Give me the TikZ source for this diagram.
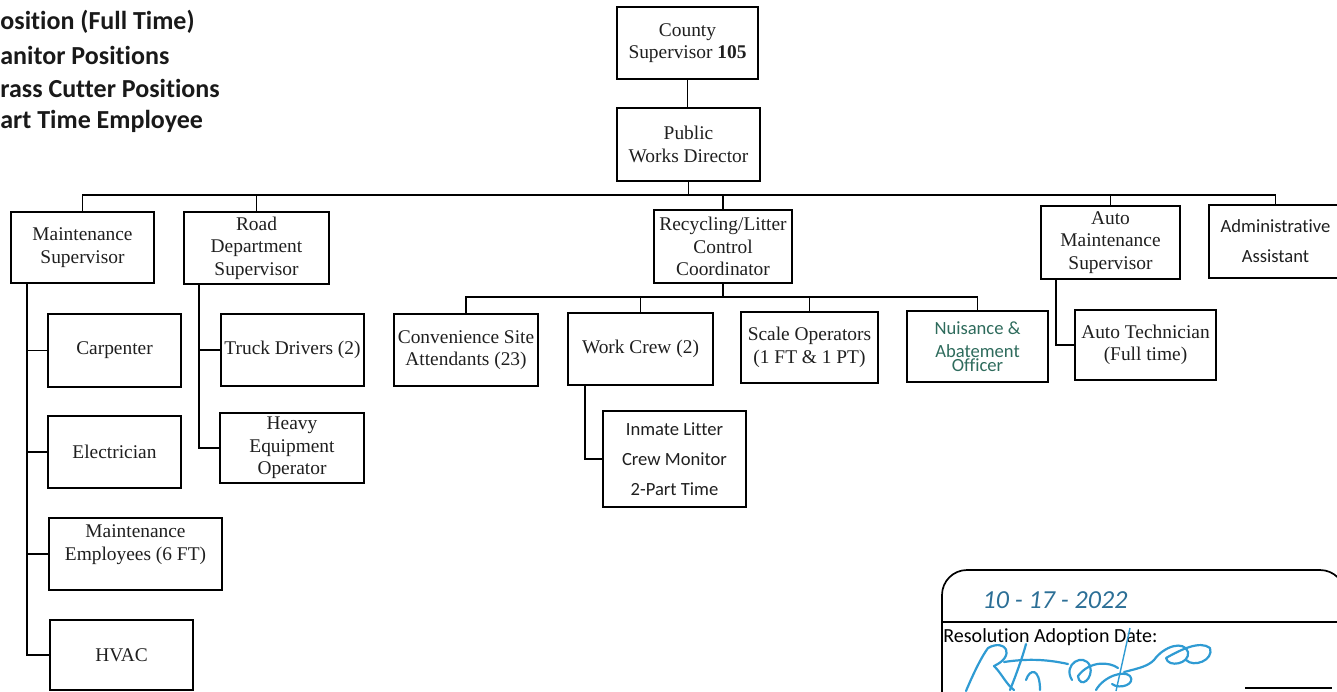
\documentclass[tikz,border=0pt]{standalone}
\usepackage{fontspec}
\setmainfont{Liberation Serif}
\newfontfamily\calfont[Ligatures=NoCommon]{Carlito}
\usetikzlibrary{calc}
\definecolor{sigblue}{HTML}{2F9BD3}
\definecolor{dateblue}{HTML}{2C6F96}
\definecolor{nuisgreen}{HTML}{2E6B5C}
\tikzset{
  box/.style={draw=black, line width=0.95pt, inner sep=0pt, align=center,
    text=black!88, font=\fontsize{9.7}{11.3}\selectfont},
  cbox/.style={box, font=\calfont\fontsize{9.3}{15}\selectfont},
  link/.style={line width=0.95pt},
  legend/.style={anchor=west, inner sep=0pt, text=black!90,
    font=\calfont\bfseries\fontsize{13}{15}\selectfont},
  sig/.style={line width=1.1pt, draw=sigblue, line cap=round, line join=round},
}
\begin{document}
\begin{tikzpicture}[x=0.5pt, y=-0.5pt]
\useasboundingbox (0,0) rectangle (1337,691);
\clip (0,0) rectangle (1337,691);

% legend lines
\node[legend] (lg1) at (0,22)  {osition (Full Time)};
\node[legend] (lg2) at (0,55)  {anitor Positions};
\node[legend] (lg3) at (0,88)  {rass Cutter Positions};
\node[legend] (lg4) at (0,121) {art Time Employee};

% top of the chart
\node[box, minimum width=70.5pt, minimum height=36pt] (county) at (687.5,43)
  {County\\Supervisor \textbf{105}};
\node[box, minimum width=71.5pt, minimum height=36.5pt] (pwd) at (688.5,144.5)
  {Public\\Works Director};

% department heads
\node[box, minimum width=71.5pt, minimum height=35.5pt] (maint) at (82.5,247.5)
  {Maintenance\\Supervisor};
\node[box, minimum width=72.5pt, minimum height=36pt] (road) at (256.5,248)
  {Road\\Department\\Supervisor};
\node[box, minimum width=69pt, minimum height=36.5pt] (recyc) at (723,246.5)
  {Recycling/Litter\\Control\\Coordinator};
\node[box, minimum width=69.5pt, minimum height=36.5pt] (automaint) at (1110.5,242.5)
  {Auto\\Maintenance\\Supervisor};
\node[cbox, minimum width=66.5pt, minimum height=36.5pt] (admin) at (1275.5,241.5)
  {Administrative\\Assistant};

% maintenance staff
\node[box, minimum width=66.5pt, minimum height=36.5pt] (carp) at (114.5,350.5) {Carpenter};
\node[box, minimum width=66.5pt, minimum height=36pt] (elec) at (114.5,452) {Electrician};
\node[box, minimum width=86.5pt, minimum height=36pt] (memp) at (135.5,554)
  {Maintenance\\Employees (6 FT)\\\mbox{}};
\node[box, minimum width=71.5pt, minimum height=35pt] (hvac) at (121.5,655) {HVAC};

% road department staff
\node[box, minimum width=71.5pt, minimum height=36pt] (truck) at (292.5,350) {Truck Drivers (2)};
\node[box, minimum width=72pt, minimum height=35pt] (heavy) at (292,448)
  {Heavy\\Equipment\\Operator};

% recycling staff
\node[box, minimum width=72pt, minimum height=36pt] (conv) at (466,350)
  {Convenience Site\\Attendants (23)};
\node[box, minimum width=72.5pt, minimum height=36pt] (work) at (640.5,349) {Work Crew (2)};
\node[box, minimum width=68.5pt, minimum height=35.5pt] (scale) at (809.5,347.5)
  {Scale Operators\\(1 FT \& 1 PT)};
\node[cbox, minimum width=70.5pt, minimum height=35.5pt, text=nuisgreen,
  font=\calfont\fontsize{9.3}{11.5}\selectfont] (nuis) at (977.5,346.5)
  {Nuisance \&\\Abatement\\[-4.6pt]Officer};
\node[cbox, minimum width=71.5pt, minimum height=48pt] (inmate) at (674.5,459)
  {Inmate Litter\\Crew Monitor\\2-Part Time};

% auto shop staff
\node[box, minimum width=70.5pt, minimum height=35pt] (autotech) at (1145.5,345)
  {Auto Technician\\(Full time)};

% connectors
\coordinate (bus) at (688,195);
\draw[link] (county.south) -- (county.south |- pwd.north);
\draw[link] (pwd.south) -- (pwd.south |- bus);
\draw[link] (maint.north) |- (bus) -| (admin.north);
\foreach \n in {road,recyc,automaint}
  \draw[link] (\n.north) -- (\n.north |- bus);

\coordinate (rbus) at (723,297);
\draw[link] (recyc.south) -- (rbus);
\draw[link] (conv.north) |- (rbus) -| (nuis.north);
\foreach \n in {work,scale}
  \draw[link] (\n.north) -- (\n.north |- rbus);

\coordinate (mtop) at (27,283);
\draw[link] (mtop) |- (hvac.west);
\foreach \n in {carp,elec,memp}
  \draw[link] (mtop |- \n.west) -- (\n.west);

\coordinate (rtop) at (199,284);
\draw[link] (rtop) |- (heavy.west);
\draw[link] (rtop |- truck.west) -- (truck.west);

\coordinate (wtop) at (585,385);
\draw[link] (wtop) |- (inmate.west);

\coordinate (atop) at (1056,279);
\draw[link] (atop) |- (autotech.west);

% adoption stamp
\draw[line width=0.85pt, rounded corners=12.5pt]
  (942,720) -- (942,570) -- (1345,570) -- (1345,720);
\draw[line width=0.85pt] (942,622) -- (1345,622);
\draw[line width=0.9pt] (1245,688) -- (1332,688);
\node[anchor=west, inner sep=0pt, font=\calfont\fontsize{10}{12}\selectfont] (resol)
  at (943,637) {Resolution Adoption Date:};
\node[inner sep=0pt, text=dateblue, font=\calfont\itshape\fontsize{13}{15}\selectfont] (date)
  at (1055,600) {10 - 17 - 2022};

% signature
\draw[sig] (966,691) .. controls (974,672) and (982,656) .. (988,648)
  .. controls (1006,638) and (1016,656) .. (994,666)
  .. controls (1002,674) and (1006,684) .. (1014,690);
\draw[sig] (1010,690) .. controls (1018,670) and (1024,652) .. (1026,644);
\draw[sig] (1026,680) .. controls (1030,668) and (1040,668) .. (1040,690);
\draw[sig] (1004,662) .. controls (1030,658) and (1050,660) .. (1068,664);
\draw[sig] (1072,680) .. controls (1062,664) and (1084,652) .. (1090,666)
  .. controls (1094,678) and (1080,690) .. (1078,676)
  .. controls (1090,660) and (1110,662) .. (1118,668);
\draw[sig] (1096,690) .. controls (1104,676) and (1124,670) .. (1130,676)
  .. controls (1136,684) and (1120,690) .. (1112,684);
\draw[sig] (1124,672) .. controls (1140,668) and (1148,666) .. (1154,660)
  .. controls (1164,646) and (1184,640) .. (1188,652)
  .. controls (1190,664) and (1168,668) .. (1166,658)
  .. controls (1180,650) and (1200,640) .. (1210,648)
  .. controls (1214,660) and (1194,668) .. (1186,660);
\draw[line width=0.7pt, draw=sigblue] (1130,628) -- (1116,691);
\end{tikzpicture}
\end{document}
